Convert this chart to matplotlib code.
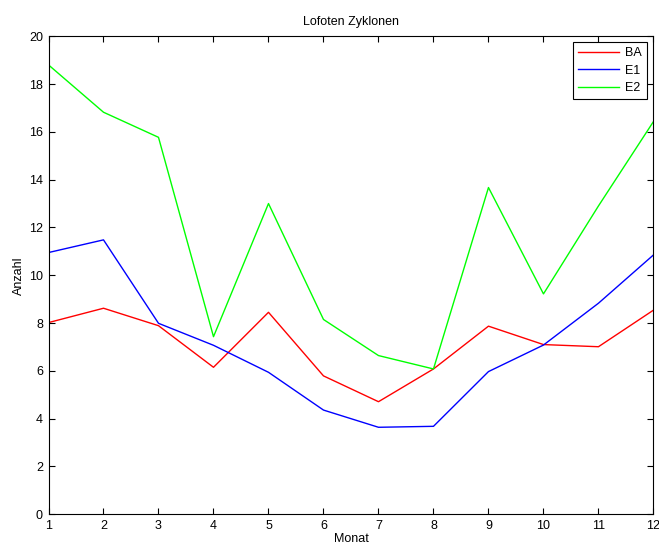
import numpy as np
import matplotlib
matplotlib.use("Agg")
import matplotlib.pyplot as plt

plt.rcParams['font.family'] = ['Liberation Sans', 'DejaVu Sans']
plt.rcParams['font.size'] = 9

# Monthly cyclone counts, Lofoten
months = np.arange(1, 13)
ba = [8.02, 8.62, 7.89, 6.15, 8.45, 5.79, 4.71, 6.08, 7.87, 7.10, 7.01, 8.54]
e1 = [10.95, 11.48, 7.99, 7.07, 5.94, 4.36, 3.64, 3.68, 5.97, 7.08, 8.83, 10.85]
e2 = [18.80, 16.82, 15.77, 7.43, 13.00, 8.15, 6.64, 6.08, 13.67, 9.22, 12.90, 16.43]

fig = plt.figure(figsize=(6.59, 5.47), dpi=100)
ax = fig.add_axes([0.0736, 0.0598, 0.918, 0.874])

ax.plot(months, ba, color=(1, 0, 0), lw=1.0, label="BA")
ax.plot(months, e1, color=(0, 0, 1), lw=1.0, label="E1")
ax.plot(months, e2, color=(0, 1, 0), lw=1.0, label="E2")

ax.set_xlim(1, 12)
ax.set_ylim(0, 20)
ax.set_xticks(months)
ax.set_yticks(np.arange(0, 21, 2))
ax.tick_params(direction="in", length=4, width=0.8, top=True, right=True, pad=4)
for s in ax.spines.values():
    s.set_linewidth(0.8)

ax.set_title("Lofoten Zyklonen", fontsize=9, pad=8)
ax.set_xlabel("Monat", labelpad=1)
ax.set_ylabel("Anzahl", labelpad=3)

leg = ax.legend(loc="upper right", fancybox=False, framealpha=1, edgecolor="black",
                handlelength=3.3, borderaxespad=0.5, labelspacing=0.42,
                borderpad=0.4, handletextpad=0.5)
leg.get_frame().set_linewidth(0.8)

fig.savefig("out.png", dpi=100)
